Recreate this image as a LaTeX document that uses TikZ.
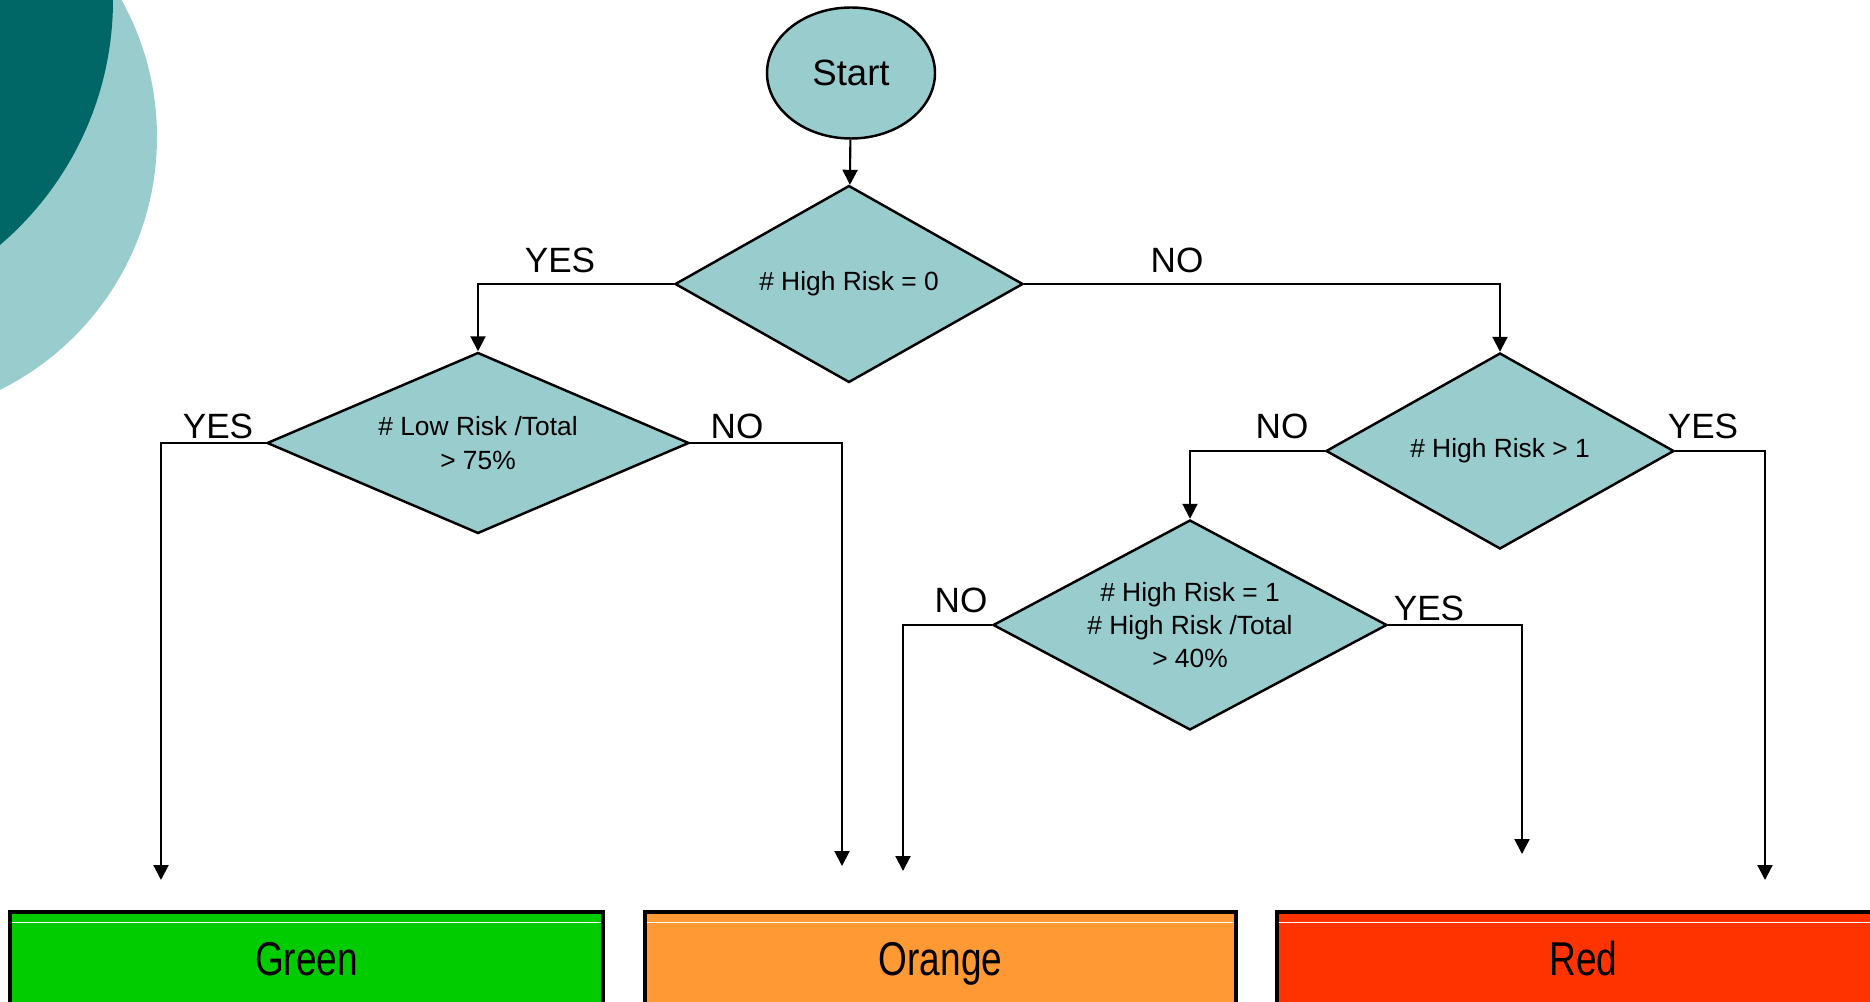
\documentclass[tikz,border=0pt]{standalone}
\usepackage{fontspec}
\setmainfont{Liberation Sans}
\usepackage{graphicx}
\usetikzlibrary{shapes.geometric,arrows.meta}
\definecolor{lightteal}{HTML}{99CCCC}
\definecolor{darkteal}{HTML}{006666}
\definecolor{riskgreen}{HTML}{00CC00}
\definecolor{riskorange}{HTML}{FF9933}
\definecolor{riskred}{HTML}{FF3300}

\begin{document}
\begin{tikzpicture}
[
    test/.style={diamond,draw=black,fill=lightteal,line width=0.7pt,inner sep=0pt,shape aspect=2,align=center,font=\fontsize{7.5}{9.5}\selectfont},
    answer/.style={font=\fontsize{10}{12}\selectfont},
    result/.style={rectangle,draw=black,line width=0.9pt,minimum height=9.2mm,text height=9.7pt,text depth=0pt,font=\fontsize{13.5}{16}\selectfont},
    arr/.style={line width=0.6pt,-{Triangle[length=1.5mm,width=1.5mm]}},
    seam/.style={white,line width=0.4pt},
]

\useasboundingbox (0,0) rectangle (18.70,10.01);
\clip (0,0) rectangle (18.70,10.01);

\fill[lightteal] (-1.25,8.64) circle (2.82);
\fill[darkteal] (-2.09,10.01) circle (3.22);

\node (start) at (8.51,9.28) [ellipse,draw=black,fill=lightteal,line width=0.7pt,minimum width=1.68cm,minimum height=1.31cm,font=\fontsize{10.4}{12}\selectfont] {Start};

\node (high0) at (8.49,7.17) [test,minimum width=3.48cm,minimum height=1.97cm] {\# High Risk = 0};
\node (low75) at (4.78,5.58) [test,minimum width=4.22cm,minimum height=1.81cm] {\# Low Risk /Total\\> 75\%};
\node (high1) at (15.00,5.50) [test,minimum width=3.48cm,minimum height=1.96cm] {\# High Risk > 1};
\node (high40) at (11.90,3.76) [test,minimum width=3.94cm,minimum height=2.10cm] {\# High Risk = 1\\\# High Risk /Total\\> 40\%};

\node (green) at (3.065,0.43) [result,fill=riskgreen,minimum width=5.93cm] {\scalebox{0.78}[1]{Green}};
\node (orange) at (9.405,0.43) [result,fill=riskorange,minimum width=5.91cm] {\scalebox{0.78}[1]{Orange}};
\node (red) at (15.835,0.43) [result,fill=riskred,minimum width=6.13cm] {\scalebox{0.78}[1]{Red}};

\draw[seam] ([xshift=0.4mm,yshift=-1.2mm]green.north west) -- ([xshift=-0.4mm,yshift=-1.2mm]green.north east);
\draw[seam] ([xshift=0.4mm,yshift=-1.2mm]orange.north west) -- ([xshift=-0.4mm,yshift=-1.2mm]orange.north east);
\draw[seam] ([xshift=0.4mm,yshift=-1.2mm]red.north west) -- ([xshift=-0.4mm,yshift=-1.2mm]red.north east);

\coordinate (toGreen) at (1.61,1.21);
\coordinate (toOrangeA) at (8.42,1.35);
\coordinate (toOrangeB) at (9.03,1.30);
\coordinate (toRedA) at (15.22,1.47);
\coordinate (toRedB) at (17.65,1.21);

\draw[arr] (start) -- (high0);
\draw[arr] (high0.west) -| (low75.north);
\draw[arr] (high0.east) -| (high1.north);
\draw[arr] (low75.west) -| (toGreen);
\draw[arr] (low75.east) -| (toOrangeA);
\draw[arr] (high1.west) -| (high40.north);
\draw[arr] (high1.east) -| (toRedB);
\draw[arr] (high40.west) -| (toOrangeB);
\draw[arr] (high40.east) -| (toRedA);

\node (yes1) at (5.60,7.41) [answer] {YES};
\node (no1) at (11.77,7.41) [answer] {NO};
\node (yes2) at (2.18,5.75) [answer] {YES};
\node (no2) at (7.37,5.75) [answer] {NO};
\node (no3) at (12.82,5.75) [answer] {NO};
\node (yes3) at (17.03,5.75) [answer] {YES};
\node (no4) at (9.61,4.01) [answer] {NO};
\node (yes4) at (14.29,3.93) [answer] {YES};
\end{tikzpicture}
\end{document}
